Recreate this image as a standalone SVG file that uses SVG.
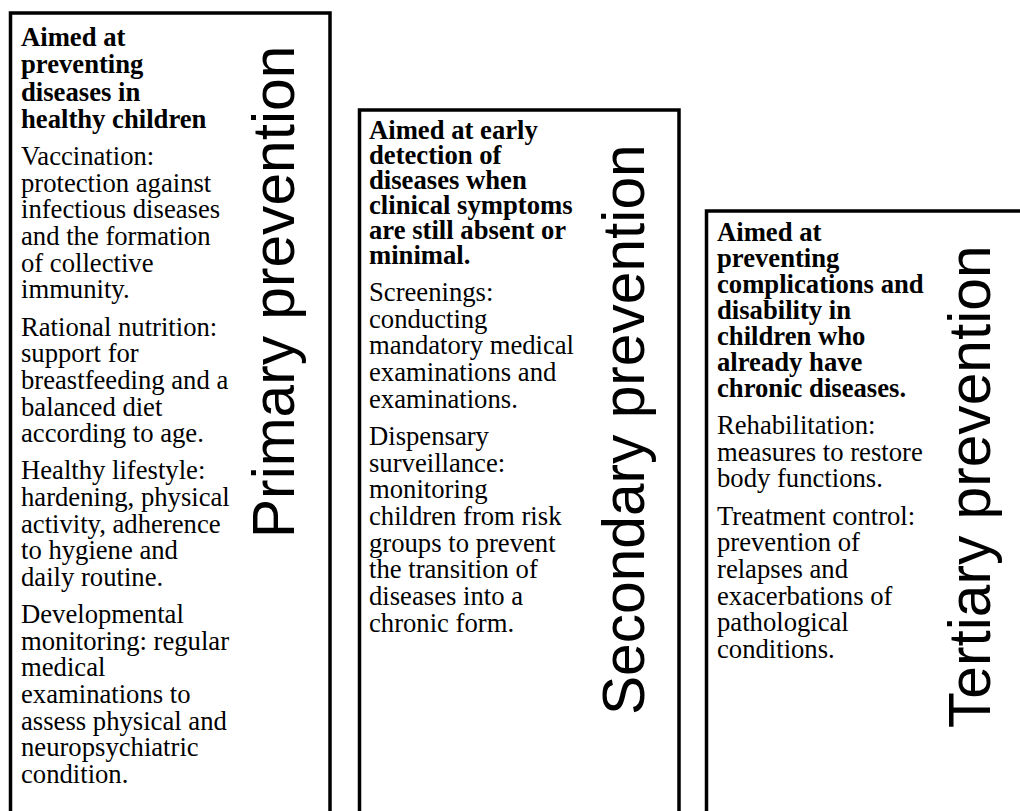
<svg xmlns="http://www.w3.org/2000/svg" width="1020" height="811" viewBox="0 0 1020 811">
<style>
.box{fill:#fff;stroke:#000;stroke-width:3.5}
.t{font-family:"Liberation Serif","Times New Roman",serif;font-size:26.67px;fill:#000}
.b{font-weight:bold}
.ttl{font-family:"Liberation Sans",Arial,sans-serif;font-size:58.67px;fill:#000}
</style>
<rect width="1020" height="811" fill="#fff"/>
<g id="primary">
<rect class="box" x="10.5" y="13" width="319.5" height="830"/>
<text class="t b" x="21" y="46"><tspan x="21" y="46">Aimed at</tspan><tspan x="21" y="73.3">preventing</tspan><tspan x="21" y="100.6">diseases in</tspan><tspan x="21" y="128">healthy children</tspan></text>
<text class="t" x="21" y="165"><tspan x="21" y="165">Vaccination:</tspan><tspan x="21" dy="26.67">protection against</tspan><tspan x="21" dy="26.67">infectious diseases</tspan><tspan x="21" dy="26.67">and the formation</tspan><tspan x="21" dy="26.67">of collective</tspan><tspan x="21" dy="26.67">immunity.</tspan></text>
<text class="t" x="21" y="335.5"><tspan x="21" y="335.5">Rational nutrition:</tspan><tspan x="21" dy="26.67">support for</tspan><tspan x="21" dy="26.67">breastfeeding and a</tspan><tspan x="21" dy="26.67">balanced diet</tspan><tspan x="21" dy="26.67">according to age.</tspan></text>
<text class="t" x="21" y="479.4"><tspan x="21" y="479.4">Healthy lifestyle:</tspan><tspan x="21" dy="26.67">hardening, physical</tspan><tspan x="21" dy="26.67">activity, adherence</tspan><tspan x="21" dy="26.67">to hygiene and</tspan><tspan x="21" dy="26.67">daily routine.</tspan></text>
<text class="t" x="21" y="623"><tspan x="21" y="623">Developmental</tspan><tspan x="21" dy="26.67">monitoring: regular</tspan><tspan x="21" dy="26.67">medical</tspan><tspan x="21" dy="26.67">examinations to</tspan><tspan x="21" dy="26.67">assess physical and</tspan><tspan x="21" dy="26.67">neuropsychiatric</tspan><tspan x="21" dy="26.67">condition.</tspan></text>
<text class="ttl" transform="translate(294,538) rotate(-90)" x="0" y="0">Primary prevention</text>
</g>
<g id="secondary">
<rect class="box" x="359.5" y="110" width="319.5" height="730"/>
<text class="t b" x="369" y="139"><tspan x="369" y="139">Aimed at early</tspan><tspan x="369" dy="25">detection of</tspan><tspan x="369" dy="25">diseases when</tspan><tspan x="369" dy="25">clinical symptoms</tspan><tspan x="369" dy="25">are still absent or</tspan><tspan x="369" dy="25">minimal.</tspan></text>
<text class="t" x="369" y="301"><tspan x="369" y="301">Screenings:</tspan><tspan x="369" dy="26.67">conducting</tspan><tspan x="369" dy="26.67">mandatory medical</tspan><tspan x="369" dy="26.67">examinations and</tspan><tspan x="369" dy="26.67">examinations.</tspan></text>
<text class="t" x="369" y="445"><tspan x="369" y="445">Dispensary</tspan><tspan x="369" dy="26.67">surveillance:</tspan><tspan x="369" dy="26.67">monitoring</tspan><tspan x="369" dy="26.67">children from risk</tspan><tspan x="369" dy="26.67">groups to prevent</tspan><tspan x="369" dy="26.67">the transition of</tspan><tspan x="369" dy="26.67">diseases into a</tspan><tspan x="369" dy="26.67">chronic form.</tspan></text>
<text class="ttl" transform="translate(644,715) rotate(-90)" x="0" y="0">Secondary prevention</text>
</g>
<g id="tertiary">
<rect class="box" x="706.5" y="211" width="320" height="630"/>
<text class="t b" x="717" y="241"><tspan x="717" y="241">Aimed at</tspan><tspan x="717" dy="26">preventing</tspan><tspan x="717" dy="26">complications and</tspan><tspan x="717" dy="26">disability in</tspan><tspan x="717" dy="26">children who</tspan><tspan x="717" dy="26">already have</tspan><tspan x="717" dy="26">chronic diseases.</tspan></text>
<text class="t" x="717" y="434"><tspan x="717" y="434">Rehabilitation:</tspan><tspan x="717" dy="26.67">measures to restore</tspan><tspan x="717" dy="26.67">body functions.</tspan></text>
<text class="t" x="717" y="524.5"><tspan x="717" y="524.5">Treatment control:</tspan><tspan x="717" dy="26.67">prevention of</tspan><tspan x="717" dy="26.67">relapses and</tspan><tspan x="717" dy="26.67">exacerbations of</tspan><tspan x="717" dy="26.67">pathological</tspan><tspan x="717" dy="26.67">conditions.</tspan></text>
<text class="ttl" transform="translate(990,728) rotate(-90)" x="0" y="0">Tertiary prevention</text>
</g>
<g id="connectors"/>
</svg>
